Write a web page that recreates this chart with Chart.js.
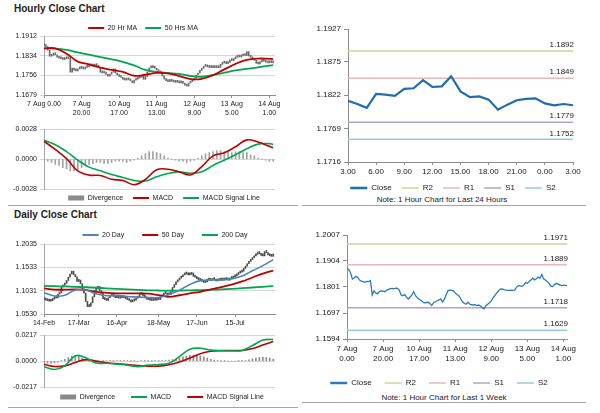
<!DOCTYPE html>
<html>
<head>
<meta charset="utf-8">
<script src="https://cdn.jsdelivr.net/npm/chart.js@4.4.0/dist/chart.umd.min.js"></script>
<style>
html, body { margin: 0; padding: 0; background: #fff; }
body { width: 600px; height: 413px; position: relative; overflow: hidden; font-family: 'Liberation Sans', Arial, sans-serif; color: #222; }
canvas { position: absolute; }
.title { position: absolute; left: 14px; font-weight: bold; font-size: 10px; line-height: 12px; }
.note { position: absolute; width: 300px; text-align: center; font-size: 8px; line-height: 10px; }
.rule { position: absolute; height: 0; border-top: 1.5px solid #a6a6a6; }
</style>
</head>
<body>
<div class="title" style="top:3px">Hourly Close Chart</div>
<div class="title" style="top:209px">Daily Close Chart</div>
<div class="rule" style="left:8px;width:290px;top:205px"></div>
<div class="rule" style="left:302px;width:284px;top:205px"></div>
<div class="rule" style="left:8px;width:290px;top:407px"></div>
<div class="rule" style="left:302px;width:284px;top:402px"></div>
<div class="note" style="left:292px;top:195px">Note: 1 Hour Chart for Last 24 Hours</div>
<div class="note" style="left:294px;top:393px">Note: 1 Hour Chart for Last 1 Week</div>

<canvas id="hourPrice" width="300" height="124" style="left:0;top:0"></canvas>
<canvas id="hourMacd" width="300" height="84" style="left:0;top:122px"></canvas>
<canvas id="dayPrice" width="300" height="122" style="left:0;top:206px"></canvas>
<canvas id="dayMacd" width="300" height="80" style="left:0;top:328px"></canvas>
<canvas id="last24" width="300" height="196" style="left:300px;top:0"></canvas>
<canvas id="lastWeek" width="300" height="187" style="left:300px;top:206px"></canvas>

<script>
// ---- hourly (last week) ----
const hourLabelIdx = [0, 20, 40, 60, 80, 100, 120];
const hourLabelDay = ['7 Aug', '7 Aug', '10 Aug', '11 Aug', '12 Aug', '13 Aug', '14 Aug'];
const hourLabelTime = ['0.00', '20.00', '17.00', '13.00', '9.00', '5.00', '1.00'];

const hourClose = [
  1.1874,1.1870,1.1856,1.1832,1.1836,1.1843,1.1838,1.1828,1.1824,1.1822,
  1.1819,1.1823,1.1822,1.1826,1.1769,1.1785,1.1777,1.1774,1.1782,1.1785,
  1.1784,1.1782,1.1788,1.1791,1.1794,1.1795,1.1793,1.1796,1.1795,1.1788,
  1.1769,1.1766,1.1770,1.1760,1.1753,1.1761,1.1769,1.1782,1.1766,1.1758,
  1.1752,1.1748,1.1741,1.1738,1.1739,1.1740,1.1735,1.1727,1.1738,1.1742,
  1.1746,1.1749,1.1753,1.1741,1.1752,1.1770,1.1786,1.1788,1.1787,1.1785,
  1.1777,1.1771,1.1766,1.1754,1.1742,1.1736,1.1732,1.1740,1.1733,1.1730,
  1.1729,1.1730,1.1727,1.1729,1.1725,1.1718,1.1714,1.1726,1.1732,1.1738,
  1.1745,1.1758,1.1766,1.1776,1.1784,1.1792,1.1793,1.1790,1.1788,1.1787,
  1.1787,1.1788,1.1787,1.1788,1.1800,1.1806,1.1805,1.1803,1.1808,1.1818,
  1.1815,1.1822,1.1828,1.1836,1.1829,1.1833,1.1840,1.1835,1.1850,1.1833,
  1.1828,1.1822,1.1816,1.1804,1.1802,1.1810,1.1815,1.1812,1.1809,1.1806,
  1.1808,1.1807,1.1806
];

const maHours = [0,6,12,18,24,30,36,42,48,54,60,66,72,78,84,90,96,102,108,114,120,122];
const ma20Hr = [1.1863,1.1863,1.1842,1.1811,1.1800,1.1787,1.1778,1.1770,1.1755,1.1759,1.1766,
                1.1764,1.1754,1.1742,1.1743,1.1757,1.1780,1.1802,1.1818,1.1823,1.1822,1.1821];
const ma50Hr = [1.1863,1.1862,1.1857,1.1847,1.1838,1.1829,1.1820,1.1810,1.1796,1.1778,1.1770,
                1.1766,1.1762,1.1754,1.1751,1.1758,1.1767,1.1776,1.1782,1.1788,1.1795,1.1797];
const hourMacdLine = [0.00167,0.00090,0.00005,-0.00110,-0.00150,-0.00153,-0.00189,-0.00200,-0.00240,-0.00190,-0.00100,
                      -0.00095,-0.00120,-0.00148,-0.00070,0.00030,0.00060,0.00115,0.00180,0.00160,0.00120,0.00106];
const hourSignal = [0.00176,0.00135,0.00070,-0.00010,-0.00075,-0.00110,-0.00145,-0.00172,-0.00200,-0.00205,-0.00165,
                    -0.00135,-0.00120,-0.00133,-0.00118,-0.00060,-0.00010,0.00040,0.00097,0.00140,0.00145,0.00137];
// every 2 hours
const hourDiv = [
  0.0000,-0.0002,-0.0003,-0.0005,-0.0006,-0.0008,-0.0009,-0.0011,-0.0011,-0.0010,
  -0.0008,-0.0006,-0.0005,-0.0004,-0.0003,-0.0003,-0.0004,-0.0004,-0.0003,-0.0002,
  -0.0002,-0.0002,-0.0003,-0.0002,-0.0001,0.0001,0.0003,0.0005,0.0007,0.0007,
  0.0006,0.0005,0.0003,0.0001,0.0000,-0.0001,-0.0002,-0.0002,-0.0003,-0.0002,
  -0.0001,0.0001,0.0003,0.0005,0.0006,0.0007,0.0008,0.0008,0.0007,0.0007,
  0.0006,0.0007,0.0007,0.0006,0.0006,0.0004,0.0003,0.0001,0.0000,-0.0001,
  -0.0002,-0.0002
];
const hourPriceTicks = [1.1679, 1.1756, 1.1834, 1.1912];
const hourMacdTicks = [-0.0028, 0, 0.0028];

// ---- daily ----
const dayLabelIdx = [0, 20, 42, 66, 88, 110];
const dayLabels = ['14-Feb', '17-Mar', '16-Apr', '18-May', '17-Jun', '15-Jul'];
const dayClose = [
  1.0840,1.0830,1.0815,1.0805,1.0820,1.0850,1.0880,1.0875,1.0960,1.0990,
  1.1110,1.1150,1.1190,1.1250,1.1320,1.1390,1.1450,1.1380,1.1330,1.1230,
  1.1260,1.1180,1.1070,1.0980,1.0800,1.0690,1.0700,1.0770,1.0900,1.1030,
  1.1080,1.1120,1.1030,1.0970,1.0860,1.0840,1.0820,1.0880,1.0920,1.0930,
  1.0910,1.0880,1.0900,1.0870,1.0890,1.0880,1.0900,1.0860,1.0840,1.0820,
  1.0790,1.0810,1.0830,1.0870,1.0890,1.0950,1.0980,1.0920,1.0900,1.0850,
  1.0840,1.0830,1.0820,1.0840,1.0830,1.0850,1.0840,1.0900,1.0920,1.0980,
  1.0970,1.0940,1.0950,1.1010,1.1100,1.1160,1.1220,1.1260,1.1300,1.1330,
  1.1370,1.1410,1.1390,1.1370,1.1380,1.1410,1.1340,1.1320,1.1290,1.1270,
  1.1250,1.1230,1.1210,1.1220,1.1280,1.1260,1.1250,1.1270,1.1280,1.1240,
  1.1250,1.1260,1.1270,1.1260,1.1280,1.1270,1.1260,1.1290,1.1300,1.1330,
  1.1350,1.1380,1.1410,1.1430,1.1450,1.1510,1.1560,1.1610,1.1660,1.1700,
  1.1740,1.1780,1.1810,1.1840,1.1830,1.1790,1.1780,1.1870,1.1850,1.1800,
  1.1780,1.1770,1.1820
];
const maDays = [0,6,12,18,24,30,36,42,48,54,60,66,72,78,84,90,96,102,108,114,120,126,132];
const ma20Day = [1.0988,1.0917,1.0935,1.1045,1.1046,1.0965,1.0923,1.0930,1.0905,1.0895,1.0885,1.0885,
                 1.0950,1.1040,1.1165,1.1248,1.1263,1.1263,1.1285,1.1345,1.1460,1.1570,1.1700];
const ma50Day = [1.1083,1.1055,1.1052,1.1060,1.1046,1.1005,1.0985,1.0975,1.0975,1.0975,1.0968,1.0935,
                 1.0900,1.0933,1.0975,1.1005,1.1060,1.1108,1.1160,1.1230,1.1315,1.1400,1.1460];
const ma200Day = [1.1133,1.1128,1.1123,1.1115,1.1105,1.1094,1.1083,1.1070,1.1058,1.1048,1.1040,1.1035,
                  1.1032,1.1033,1.1038,1.1043,1.1050,1.1058,1.1070,1.1085,1.1100,1.1115,1.1130];
const dayMacdLine = [-0.0047,-0.0070,-0.0040,0.0045,0.0028,-0.0016,-0.0018,-0.0026,-0.0034,-0.0046,-0.0034,-0.0029,
                     -0.0018,0.0038,0.0100,0.0108,0.0092,0.0087,0.0085,0.0089,0.0130,0.0176,0.0182];
const daySignal = [-0.0026,-0.0045,-0.0040,-0.0012,0.0012,0.0000,-0.0014,-0.0022,-0.0028,-0.0038,-0.0042,-0.0042,
                   -0.0030,-0.0008,0.0025,0.0062,0.0082,0.0088,0.0089,0.0089,0.0105,0.0135,0.0165];
// every 2 days
const dayDiv = [
  -0.0015,-0.0018,-0.0020,-0.0015,-0.0008,0.0005,0.0015,0.0030,0.0040,0.0045,
  0.0040,0.0025,0.0012,-0.0005,-0.0010,-0.0010,-0.0004,0.0002,0.0004,0.0004,
  0.0002,0.0003,0.0002,0.0004,0.0003,0.0002,0.0001,0.0000,0.0003,0.0002,
  0.0001,0.0001,0.0001,0.0002,0.0003,0.0005,0.0008,0.0012,0.0018,0.0025,
  0.0035,0.0042,0.0048,0.0050,0.0048,0.0042,0.0035,0.0025,0.0015,0.0008,
  0.0004,0.0002,0.0001,0.0000,0.0000,0.0000,0.0001,0.0002,0.0005,0.0010,
  0.0018,0.0025,0.0030,0.0032,0.0030,0.0025,0.0015
];
const dayPriceTicks = [1.0530, 1.1031, 1.1533, 1.2035];
const dayMacdTicks = [-0.0217, 0, 0.0217];

// ---- last 24 hours ----
const h24LabelIdx = [0, 3, 6, 9, 12, 15, 18, 21, 24];
const h24Labels = ['3.00', '6.00', '9.00', '12.00', '15.00', '18.00', '21.00', '0.00', '3.00'];
const h24Close = [1.1813,1.1808,1.1802,1.1824,1.1823,1.1821,1.1832,1.1833,1.1846,1.1835,1.1836,1.1852,
                  1.1828,1.1819,1.1820,1.1815,1.1799,1.1807,1.1814,1.1816,1.1817,1.1809,1.1806,1.1808,1.1806];
const h24Ticks = [1.1716, 1.1769, 1.1822, 1.1875, 1.1927];

// ---- pivot levels ----
const levelNames = ['R2', 'R1', 'S1', 'S2'];
const levels24 = [1.1892, 1.1849, 1.1779, 1.1752];
const levelsWeek = [1.1971, 1.1889, 1.1718, 1.1629];
const weekTicks = [1.1594, 1.1697, 1.1801, 1.1904, 1.2007];

const levelColors = ['#c4d79b', '#e6b9b8', '#b3a2c7', '#93cddd'];

Chart.defaults.font.family = "'Liberation Sans', Arial, sans-serif";
Chart.defaults.color = '#222';
Chart.defaults.plugins.tooltip.enabled = false;

// fixes legend box size and moves it where the reference has it
const legendPos = {
  id: 'legendPos',
  beforeUpdate(chart) {
    const lg = chart.legend;
    if (!lg || lg._patched) return;
    const fit = lg.fit;
    lg.fit = function () { fit.call(this); this.height = chart.options.plugins.legendPos.h; };
    lg._patched = true;
  },
  afterLayout(chart, args, o) {
    const lg = chart.legend;
    const w = lg.right - lg.left;
    const h = Math.max(lg.bottom - lg.top, o.p + o.f + 4);
    lg.left = o.cx - w / 2; lg.right = lg.left + w;
    lg.top = o.cy - o.p - o.f / 2; lg.bottom = lg.top + h;
  }
};

// value text above each pivot line
const levelText = {
  id: 'levelText',
  afterDatasetsDraw(chart) {
    const {ctx, chartArea, scales} = chart;
    ctx.save();
    ctx.font = "8px 'Liberation Sans', Arial, sans-serif";
    ctx.fillStyle = '#222';
    ctx.textAlign = 'right';
    ctx.textBaseline = 'bottom';
    chart.data.datasets.forEach(ds => {
      if (ds.level == null) return;
      ctx.fillText(ds.level.toFixed(4), chartArea.right + 1, scales.y.getPixelForValue(ds.level) - 2);
    });
    ctx.restore();
  }
};

const baseLabels = Chart.defaults.plugins.legend.labels.generateLabels;
function legendItems(chart) {
  return baseLabels(chart).filter(it => !chart.data.datasets[it.datasetIndex].noLegend).map(it => {
    const ds = chart.data.datasets[it.datasetIndex];
    it.pointStyle = 'line';
    it.lineWidth = ds.legendWidth || 2;
    it.strokeStyle = ds.legendColor || ds.borderColor;
    return it;
  });
}

function legend(position, size, pad, symW) {
  return {
    position,
    labels: {
      usePointStyle: true, pointStyleWidth: symW, padding: pad, font: {size}, color: '#222',
      generateLabels: legendItems, sort: (a, b) => a.datasetIndex - b.datasetIndex
    }
  };
}

function yAxis(ticks, width, size, gridOn) {
  return {
    type: 'linear', min: ticks[0], max: ticks[ticks.length - 1],
    afterBuildTicks: s => { s.ticks = ticks.map(v => ({value: v})); },
    afterFit: s => { s.width = width; },
    ticks: {font: {size}, padding: 3, callback: v => v.toFixed(4)},
    grid: gridOn ? {color: '#d6d6d6', tickLength: 4} : {drawOnChartArea: false, tickLength: 4, color: '#8c8c8c'},
    border: {color: gridOn ? '#a6a6a6' : '#8c8c8c'}
  };
}

function xAxis(max, idx, labels, height, size) {
  return {
    type: 'linear', min: 0, max, offset: false,
    afterBuildTicks: s => { s.ticks = idx.map(v => ({value: v})); },
    afterFit: s => { s.height = height; },
    ticks: {font: {size}, padding: 2, autoSkip: false, maxRotation: 0, callback: (v, i) => labels[i]},
    grid: {drawOnChartArea: false, offset: false, tickLength: 3, color: '#8c8c8c'},
    border: {color: '#8c8c8c'}
  };
}

function hiddenX(max) {
  return {type: 'linear', min: 0, max, offset: false, grid: {offset: false}, display: false};
}

function line(label, xs, ys, color, width) {
  return {type: 'line', label, data: xs.map((x, i) => ({x, y: ys[i]})), borderColor: color,
          borderWidth: width, pointRadius: 0, tension: 0.4, order: 0, legendWidth: 2};
}

function priceBars(values, color) {
  return {type: 'bar', label: 'Price', noLegend: true, order: 9,
          data: values.map((v, i) => ({x: i, y: [i ? values[i - 1] : v, v]})),
          backgroundColor: color, barThickness: 1, minBarLength: 2, grouped: false};
}

function divBars(values, step, color) {
  return {type: 'bar', label: 'Divergence', order: 9, legendColor: '#8a8a8a', legendWidth: 5,
          data: values.map((v, i) => ({x: i * step, y: v})),
          backgroundColor: color, barThickness: 1, grouped: false};
}

function make(id, datasets, scales, padding, lg, lgPos, extra) {
  return new Chart(document.getElementById(id), {
    type: 'line',
    data: {datasets},
    options: {
      responsive: false, animation: false, events: [],
      layout: {padding},
      scales,
      plugins: {legend: lg, legendPos: lgPos, tooltip: {enabled: false}}
    },
    plugins: [legendPos].concat(extra || [])
  });
}

const hourLeftLabels = hourLabelIdx.map((_, i) => i === 0 ? hourLabelDay[i] + ' ' + hourLabelTime[i] : [hourLabelDay[i], hourLabelTime[i]]);
const hourRightLabels = hourLabelIdx.map((_, i) => [hourLabelDay[i], hourLabelTime[i]]);

// Hourly close
make('hourPrice', [
  line('20 Hr MA', maHours, ma20Hr, '#c00000', 1.8),
  line('50 Hrs MA', maHours, ma50Hr, '#00a651', 1.8),
  priceBars(hourClose, '#6b6b6b')
], {
  x: xAxis(123, hourLabelIdx, hourLeftLabels, 29, 7),
  y: yAxis(hourPriceTicks, 44, 7, true)
}, {left: 0, right: 25, top: 0, bottom: 0}, legend('top', 7, 8, 16), {h: 36, cx: 143, cy: 28, p: 8, f: 7});

make('hourMacd', [
  divBars(hourDiv, 2, '#a0a0a0'),
  line('MACD', maHours, hourMacdLine, '#c00000', 1.6),
  line('MACD Signal Line', maHours, hourSignal, '#00a651', 1.6)
], {
  x: hiddenX(123),
  y: yAxis(hourMacdTicks, 44, 7, true)
}, {left: 0, right: 25, top: 6, bottom: 0}, legend('bottom', 7, 10, 16), {h: 17, cx: 164, cy: 76, p: 10, f: 7});

// Daily close
make('dayPrice', [
  line('20 Day', maDays, ma20Day, '#4f81bd', 1.6),
  line('50 Day', maDays, ma50Day, '#c00000', 1.8),
  line('200 Day', maDays, ma200Day, '#00a651', 1.8),
  priceBars(dayClose, '#4a4a4a')
], {
  x: xAxis(133, dayLabelIdx, dayLabels, 14, 7),
  y: yAxis(dayPriceTicks, 44, 7, true)
}, {left: 0, right: 25, top: 0, bottom: 0}, legend('top', 7, 18, 16), {h: 38, cx: 165, cy: 29, p: 18, f: 7});

make('dayMacd', [
  divBars(dayDiv, 2, '#8c8c8c'),
  line('MACD', maDays, dayMacdLine, '#00a651', 1.6),
  line('MACD Signal Line', maDays, daySignal, '#c00000', 1.6)
], {
  x: hiddenX(133),
  y: yAxis(dayMacdTicks, 44, 7, true)
}, {left: 0, right: 25, top: 4, bottom: 0}, legend('bottom', 7, 16, 16), {h: 21, cx: 162, cy: 69, p: 16, f: 7});

// Pivot charts
function pivotSets(closeX, close, closeColor, closeWidth, levels, lastX) {
  const sets = [{type: 'line', label: 'Close', data: closeX.map((x, i) => ({x, y: close[i]})),
                 borderColor: closeColor, borderWidth: closeWidth, pointRadius: 0, tension: 0, legendWidth: 2.5}];
  levelNames.forEach((name, k) => {
    sets.push({type: 'line', label: name, level: levels[k],
               data: [{x: 0, y: levels[k]}, {x: lastX, y: levels[k]}],
               borderColor: levelColors[k], borderWidth: 1.5, pointRadius: 0, legendWidth: 1.5});
  });
  return sets;
}

make('last24', pivotSets(h24Close.map((_, i) => i), h24Close, '#1f6cb0', 2.2, levels24, 24), {
  x: xAxis(24, h24LabelIdx, h24Labels, 20, 8),
  y: yAxis(h24Ticks, 48, 8, false)
}, {left: 0, right: 27, top: 29, bottom: 0}, legend('bottom', 8, 10, 17), {h: 14, cx: 153, cy: 188, p: 10, f: 8}, [levelText]);

make('lastWeek', pivotSets(hourClose.map((_, i) => i), hourClose, '#2b7bba', 1.3, levelsWeek, 122), {
  x: xAxis(122, hourLabelIdx, hourRightLabels, 30, 8),
  y: yAxis(weekTicks, 47, 8, false)
}, {left: 0, right: 33, top: 29, bottom: 0}, legend('bottom', 8, 13, 17), {h: 24, cx: 139, cy: 177, p: 13, f: 8}, [levelText]);
</script>
</body>
</html>
